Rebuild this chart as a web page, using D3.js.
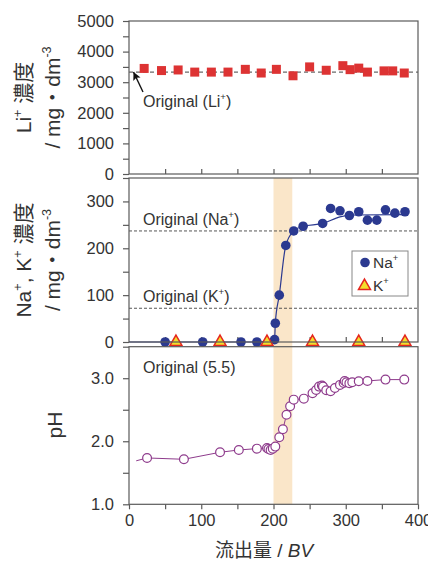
<!DOCTYPE html>
<html>
<head>
<meta charset="utf-8">
<script src="https://cdn.jsdelivr.net/npm/d3@7"></script>
<style>
body { margin: 0; background: #fff; }
text { font-family: "Liberation Sans", Arial, "Noto Sans CJK JP", sans-serif; fill: #333; }
</style>
</head>
<body>
<div class="chart"></div>
<script>
// Li+ concentration (top panel)
const liX = [21, 45, 68, 91, 114, 137, 161, 183, 204, 227, 250, 273, 296, 306, 318, 330, 353, 365, 381]
const liY = [3450, 3380, 3400, 3330, 3330, 3330, 3420, 3300, 3420, 3210, 3500, 3390, 3540, 3410, 3460, 3330, 3370, 3370, 3300]
const liOriginal = 3330

// Na+ / K+ concentration (middle panel)
const naX = [50, 102, 155, 177, 201.5, 202.5, 208, 217, 228, 241, 268, 279, 292, 305, 318, 330, 343, 355, 368, 382]
const naY = [0, 0, 0, 0, 5, 40, 100, 206, 237, 247, 253, 285, 280, 270, 278, 260, 260, 282, 275, 278]
const naFitX = [0, 177, 201.5, 202.5, 208, 217, 228, 241, 268, 292, 310, 382]
const naFitY = [0, 0, 5, 40, 100, 206, 237, 247, 253, 267, 271, 272]
const kX = [65, 126, 191, 254, 318, 382]
const kY = [0, 0, 0, 0, 0, 0]
const naOriginal = 237
const kOriginal = 72

// pH (bottom panel)
const phX = [25, 76, 126, 152, 177, 191, 193, 196, 199, 202.5, 208, 213, 218, 223, 228, 242, 254, 259, 263, 267, 268.5, 273, 279, 285, 292, 297, 298.5, 301, 305, 309, 318, 330, 355, 381]
const phY = [1.735, 1.714, 1.825, 1.862, 1.883, 1.894, 1.878, 1.862, 1.883, 1.915, 2.063, 2.19, 2.42, 2.556, 2.66, 2.676, 2.762, 2.814, 2.867, 2.883, 2.867, 2.81, 2.793, 2.846, 2.894, 2.925, 2.957, 2.937, 2.92, 2.937, 2.952, 2.957, 2.978, 2.978]
const phStart = [10, 1.69]

// breakthrough band
const bandX = [200, 226]

const xTicks = [0, 100, 200, 300, 400]
const liTicks = [0, 1000, 2000, 3000, 4000, 5000]
const naTicks = [0, 100, 200, 300]
const phTicks = [1.0, 2.0, 3.0]

const W = 428, H = 561
const frame = '#5a5a5a'
const svg = d3.select('.chart').append('svg').attr('width', W).attr('height', H)

const x = d3.scaleLinear().domain([0, 400]).range([129, 418])
const yLi = d3.scaleLinear().domain([0, 5000]).range([174, 21])
const yNa = d3.scaleLinear().domain([0, 350]).range([342, 178])
const yPh = d3.scaleLinear().domain([1, 3.5]).range([504.3, 346.7])

function richText(sel, parts, size) {
    let shift = 0
    parts.forEach(p => {
        const sup = p[1] === 'sup'
        const target = sup ? -size * 0.42 : 0
        const t = sel.append('tspan').text(p[0])
            .attr('dy', target - shift)
            .attr('font-size', sup ? size * 0.6 : size)
        if (p[1] === 'it') t.attr('font-style', 'italic')
        shift = target
    })
}

function styleAxis(g) {
    g.select('.domain').remove()
    g.selectAll('.tick line').attr('stroke', frame).attr('stroke-width', 1.2)
    g.selectAll('.tick text').attr('font-size', 16.5).attr('fill', '#333')
        .attr('font-family', '"Liberation Sans", Arial, sans-serif')
}

function range(a, b, s) {
    return d3.range(a, b + s / 2, s)
}

function leftAxis(y, all, labelled, fmt) {
    svg.append('g').attr('transform', 'translate(129,0)')
        .call(d3.axisLeft(y).tickValues(all).tickSize(6).tickPadding(9)
            .tickFormat(d => labelled.some(v => Math.abs(v - d) < 1e-6) ? fmt(d) : ''))
        .call(styleAxis)
}

// band behind middle + bottom panels
svg.append('rect')
    .attr('x', x(bandX[0])).attr('width', x(bandX[1]) - x(bandX[0]))
    .attr('y', yNa(350)).attr('height', yPh(1) - yNa(350))
    .attr('fill', '#fae6c9')

// ---------- top panel ----------
leftAxis(yLi, range(0, 5000, 500), liTicks, d3.format('d'))
svg.append('g').attr('transform', `translate(0,${yLi(0)})`)
    .call(d3.axisBottom(x).tickValues(range(50, 350, 50)).tickSize(-5).tickFormat(''))
    .call(styleAxis)

svg.append('line')
    .attr('x1', x(0)).attr('x2', x(400))
    .attr('y1', yLi(liOriginal)).attr('y2', yLi(liOriginal))
    .attr('stroke', '#444').attr('stroke-width', 1).attr('stroke-dasharray', '4,3')

svg.append('g').selectAll('rect').data(d3.zip(liX, liY)).join('rect')
    .attr('x', d => x(d[0]) - 4.5).attr('y', d => yLi(d[1]) - 4.5)
    .attr('width', 9).attr('height', 9)
    .attr('fill', '#dd3333')

svg.append('defs').append('marker')
    .attr('id', 'arr').attr('viewBox', '0 0 10 10').attr('refX', 10).attr('refY', 5)
    .attr('markerWidth', 11).attr('markerHeight', 8).attr('orient', 'auto')
    .attr('markerUnits', 'userSpaceOnUse')
    .append('path').attr('d', 'M0,0 L10,5 L0,10 L2,5 Z').attr('fill', '#111')
svg.append('line')
    .attr('x1', 143).attr('y1', 92).attr('x2', 133.5).attr('y2', 72)
    .attr('stroke', '#111').attr('stroke-width', 1.4).attr('marker-end', 'url(#arr)')

richText(svg.append('text').attr('x', 143).attr('y', 107),
    [['Original (Li'], ['+', 'sup'], [')']], 16)

svg.append('rect').attr('x', x(0)).attr('y', yLi(5000))
    .attr('width', x(400) - x(0)).attr('height', yLi(0) - yLi(5000))
    .attr('fill', 'none').attr('stroke', frame).attr('stroke-width', 1.2)

// ---------- middle panel ----------
leftAxis(yNa, range(0, 350, 50), naTicks, d3.format('d'))
svg.append('g').attr('transform', `translate(0,${yNa(0)})`)
    .call(d3.axisBottom(x).tickValues(range(50, 350, 50)).tickSize(-5).tickFormat(''))
    .call(styleAxis)

const dashes = [naOriginal, kOriginal]
svg.append('g').selectAll('line').data(dashes).join('line')
    .attr('x1', x(0)).attr('x2', x(400))
    .attr('y1', d => yNa(d)).attr('y2', d => yNa(d))
    .attr('stroke', '#444').attr('stroke-width', 0.9).attr('stroke-dasharray', '3,2')

richText(svg.append('text').attr('x', 143).attr('y', 225),
    [['Original (Na'], ['+', 'sup'], [')']], 16)
richText(svg.append('text').attr('x', 143).attr('y', 301.5),
    [['Original (K'], ['+', 'sup'], [')']], 16)

svg.append('path')
    .datum(d3.zip(naFitX, naFitY))
    .attr('d', d3.line().x(d => x(d[0])).y(d => yNa(d[1])).curve(d3.curveMonotoneX))
    .attr('fill', 'none').attr('stroke', '#2b3990').attr('stroke-width', 1.2)

svg.append('g').selectAll('circle').data(d3.zip(naX, naY)).join('circle')
    .attr('cx', d => x(d[0])).attr('cy', d => yNa(d[1])).attr('r', 4.8)
    .attr('fill', '#2b3990')

const tri = d3.symbol(d3.symbolTriangle, 62)
svg.append('g').selectAll('path').data(d3.zip(kX, kY)).join('path')
    .attr('transform', d => `translate(${x(d[0])},${yNa(d[1])})`)
    .attr('d', tri)
    .attr('fill', '#f3de2c').attr('stroke', '#e5261e').attr('stroke-width', 1.5)

svg.append('rect').attr('x', x(0)).attr('y', yNa(350))
    .attr('width', x(400) - x(0)).attr('height', yNa(0) - yNa(350))
    .attr('fill', 'none').attr('stroke', frame).attr('stroke-width', 1.2)

// legend
const lg = svg.append('g').attr('transform', 'translate(352,251)')
lg.append('rect').attr('width', 56).attr('height', 45)
    .attr('fill', '#fff').attr('stroke', '#888').attr('stroke-width', 1)
lg.append('circle').attr('cx', 13).attr('cy', 11.5).attr('r', 4.8).attr('fill', '#2b3990')
richText(lg.append('text').attr('x', 21).attr('y', 17), [['Na'], ['+', 'sup']], 15.5)
lg.append('path').attr('transform', 'translate(12.5,35)').attr('d', tri)
    .attr('fill', '#f3de2c').attr('stroke', '#e5261e').attr('stroke-width', 1.5)
richText(lg.append('text').attr('x', 21).attr('y', 40), [['K'], ['+', 'sup']], 15.5)

// ---------- bottom panel ----------
leftAxis(yPh, range(1, 3.5, 0.5), phTicks, d3.format('.1f'))
svg.append('g').attr('transform', `translate(0,${yPh(1)})`)
    .call(d3.axisBottom(x).tickValues(range(0, 400, 50)).tickSize(5).tickPadding(5)
        .tickFormat(d => xTicks.includes(d) ? d : ''))
    .call(styleAxis)

svg.append('path')
    .datum([phStart].concat(d3.zip(phX, phY)))
    .attr('d', d3.line().x(d => x(d[0])).y(d => yPh(d[1])))
    .attr('fill', 'none').attr('stroke', '#8e3b8c').attr('stroke-width', 1)

svg.append('g').selectAll('circle').data(d3.zip(phX, phY)).join('circle')
    .attr('cx', d => x(d[0])).attr('cy', d => yPh(d[1])).attr('r', 4.4)
    .attr('fill', '#fff').attr('stroke', '#8e3b8c').attr('stroke-width', 1.2)

svg.append('text').attr('x', 143).attr('y', 372.5).attr('font-size', 16).text('Original (5.5)')

svg.append('rect').attr('x', x(0)).attr('y', yPh(3.5))
    .attr('width', x(400) - x(0)).attr('height', yPh(1) - yPh(3.5))
    .attr('fill', 'none').attr('stroke', frame).attr('stroke-width', 1.2)

// ---------- axis titles ----------
function yTitle(bx, cy, parts) {
    richText(svg.append('text')
        .attr('transform', `translate(${bx},${cy}) rotate(-90)`)
        .attr('text-anchor', 'middle'), parts, 21)
}
yTitle(31, 97.5, [['Li'], ['+', 'sup'], [' 濃度']])
yTitle(60, 97.5, [['/ mg・dm'], ['-3', 'sup']])
yTitle(31, 260, [['Na'], ['+', 'sup'], [', K'], ['+', 'sup'], [' 濃度']])
yTitle(60, 260, [['/ mg・dm'], ['-3', 'sup']])
yTitle(62, 425, [['pH']])

richText(svg.append('text').attr('x', 264).attr('y', 557).attr('text-anchor', 'middle'),
    [['流出量 / '], ['BV', 'it']], 19)
</script>
</body>
</html>
